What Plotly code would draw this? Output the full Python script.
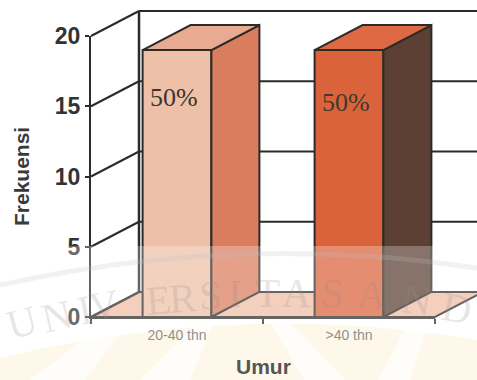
import plotly.graph_objects as go

# ---- data ----
categories = ["20-40 thn", ">40 thn"]
frekuensi = [19, 19]
persen = ["50%", "50%"]
y_ticks = [0, 5, 10, 15, 20]

# ---- colours per bar ----
front = ["#efc0a8", "#da633b"]
side = ["#da7d5e", "#5b4033"]
top = ["#e8ab92", "#dd6a42"]
pct_col = ["#3a3530", "#3f3a2a"]

W, H = 477, 380
X0, X1, Y0, Y20 = 91, 435, 317, 36     # pixel frame of the front axes
ux = (X1 - X0) / 2
uy = (Y0 - Y20) / 20
DX = 48 / ux      # depth offset in axis units
DY = 25 / uy
BW = 0.4
INK = "#2c2b28"

positions = [i + 0.5 for i in range(len(categories))]

fig = go.Figure()

# front faces
fig.add_trace(go.Bar(
    x=positions, y=frekuensi, width=BW, xaxis="x", yaxis="y",
    marker=dict(color=front, line=dict(color=INK, width=2)),
    hoverinfo="skip", showlegend=False))

# side and top faces, derived from the same values
for p, v, s, t in zip(positions, frekuensi, side, top):
    l, r = p - BW / 2, p + BW / 2
    fig.add_trace(go.Scatter(
        x=[r, r + DX, r + DX, r, r], y=[0, DY, v + DY, v, 0], mode="lines", fill="toself",
        fillcolor=s, line=dict(color=INK, width=2), hoverinfo="skip", showlegend=False))
    fig.add_trace(go.Scatter(
        x=[l, l + DX, r + DX, r, l], y=[v, v + DY, v + DY, v, v], mode="lines", fill="toself",
        fillcolor=t, line=dict(color=INK, width=2), hoverinfo="skip", showlegend=False))

# dummy trace so that the visible axes exist
fig.add_trace(go.Scatter(x=[0], y=[0], xaxis="x2", yaxis="y2", mode="markers",
                         marker=dict(opacity=0), hoverinfo="skip", showlegend=False))


def px(x):
    return x / W


def py(y):
    return 1 - y / H


shapes = []
# pale sunburst background, bounded above by the banner arc
shapes.append(dict(type="path", xref="paper", yref="paper",
                   path=f"M0,0 L0,{py(358)} Q{px(240)},{py(300)} 1,{py(340)} L1,0 Z",
                   fillcolor="#fdf6e3", line_width=0, layer="below"))
for a, b, c, d in [(30, 85, 130, 110), (140, 190, 215, 200), (305, 345, 288, 268), (378, 410, 430, 410)]:
    shapes.append(dict(type="path", xref="paper", yref="paper",
                       path=f"M{px(a)},0 L{px(b)},0 L{px(c)},{py(320)} L{px(d)},{py(320)} Z",
                       fillcolor="rgba(255,255,255,0.7)", line_width=0, layer="below"))
# floor
shapes.append(dict(type="path", xref="x", yref="y",
                   path=f"M0,0 L{DX},{DY} L{2+DX},{DY} L2,0 Z",
                   fillcolor="#f0bda5", line=dict(color=INK, width=2), layer="below"))
# walls
shapes.append(dict(type="line", xref="x", yref="y", x0=DX, x1=DX, y0=DY, y1=20 + DY,
                   line=dict(color=INK, width=2.5), layer="below"))
for t in y_ticks:
    shapes.append(dict(type="line", xref="x", yref="y", x0=0, x1=DX, y0=t, y1=t + DY,
                       line=dict(color=INK, width=2), layer="below"))
    shapes.append(dict(type="line", xref="x", yref="y", x0=DX, x1=2 + DX, y0=t + DY, y1=t + DY,
                       line=dict(color=INK, width=2), layer="below"))
# watermark veil
shapes.append(dict(type="rect", xref="paper", yref="paper", x0=0, x1=1, y0=0, y1=py(246),
                   fillcolor="rgba(255,255,255,0.27)", line_width=0, layer="above"))
# banner edge of the watermark
shapes.append(dict(type="path", xref="paper", yref="paper",
                   path=f"M0,{py(285)} Q{px(240)},{py(232)} 1,{py(268)}",
                   line=dict(color="rgba(190,190,195,0.22)", width=5), layer="above"))

annotations = []
for p, v, txt, c, dy in zip(positions, frekuensi, persen, pct_col, [47, 52]):
    annotations.append(dict(x=p - 0.02, y=v, xref="x", yref="y", text=txt, showarrow=False,
                            xanchor="center", yanchor="middle", yshift=-dy,
                            font=dict(family="Liberation Serif", size=26, color=c)))
annotations.append(dict(x=px(21), y=py(177), xref="paper", yref="paper", text="Frekuensi",
                        textangle=-90, showarrow=False, xanchor="center", yanchor="middle",
                        font=dict(family="Liberation Sans", size=21, color="#3a3a3a", weight="bold")))
annotations.append(dict(x=px(263), y=py(366), xref="paper", yref="paper", text="Umur",
                        showarrow=False, xanchor="center", yanchor="middle",
                        font=dict(family="Liberation Sans", size=21, color="#555", weight="bold")))

# watermark letters
letters = [("U", 22, 322, -15), ("N", 57, 316, -13), ("I", 85, 310, -11), ("V", 104, 305, -9),
           ("E", 158, 300, -5), ("R", 183, 298, -4), ("S", 210, 295, -2), ("I", 235, 293, 0),
           ("T", 267, 293, 1), ("A", 297, 293, 2), ("S", 332, 293, 3), ("A", 372, 294, 5),
           ("N", 417, 300, 8), ("D", 457, 308, 10)]
for ch, lx, ly, ang in letters:
    annotations.append(dict(x=px(lx), y=py(ly), xref="paper", yref="paper", text=ch,
                            textangle=ang, showarrow=False, xanchor="center", yanchor="middle",
                            font=dict(family="Liberation Serif", size=41, color="rgba(150,140,140,0.22)")))

fig.update_layout(
    width=W, height=H, margin=dict(l=0, r=0, t=0, b=0, autoexpand=False),
    paper_bgcolor="white", plot_bgcolor="rgba(0,0,0,0)", barmode="overlay",
    shapes=shapes, annotations=annotations,
    xaxis=dict(domain=[0, 1], range=[-X0 / ux, (W - X0) / ux], visible=False, fixedrange=True),
    yaxis=dict(domain=[0, 1], range=[-(H - Y0) / uy, Y0 / uy], visible=False, fixedrange=True),
    xaxis2=dict(domain=[X0 / W, X1 / W], range=[0, 2], anchor="y2", showgrid=False, zeroline=False,
                showline=True, linecolor=INK, linewidth=2,
                tickvals=positions, ticktext=categories, ticks="", ticklen=0, ticklabelstandoff=4,
                tickfont=dict(family="Liberation Sans", size=14, color="#666"),
                minor=dict(dtick=1, tick0=0, ticks="outside", ticklen=5, tickcolor=INK, tickwidth=2, showgrid=False)),
    yaxis2=dict(domain=[1 - Y0 / H, 1 - Y20 / H], range=[0, 20], anchor="x2", showgrid=False, zeroline=False,
                showline=True, linecolor=INK, linewidth=2,
                tickvals=y_ticks, ticks="outside", ticklen=4, tickcolor=INK, tickwidth=2,
                tickfont=dict(family="Liberation Sans", size=23, color="#333", weight="bold")),
)
fig.write_html("out.html", config=dict(displayModeBar=False),
               post_script="document.documentElement.style.overflow='hidden';document.body.style.margin='0';")
